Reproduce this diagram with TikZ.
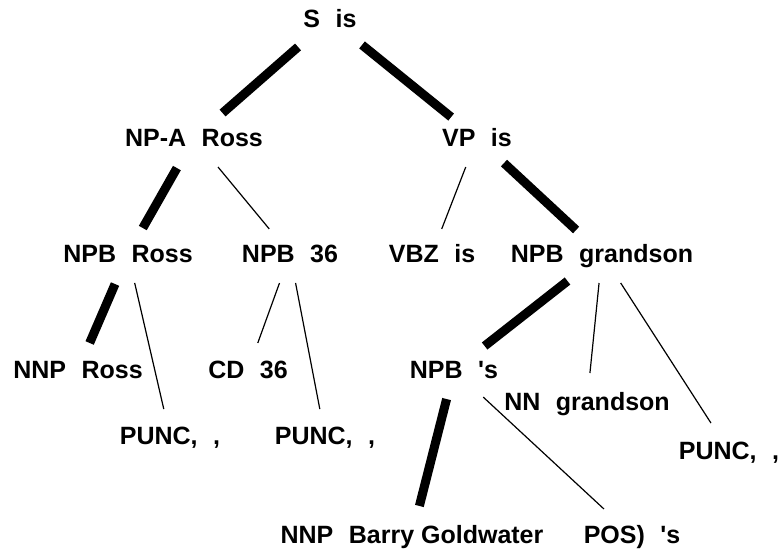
\documentclass[tikz,border=0pt]{standalone}
\usepackage{fontspec}
\setmainfont{Liberation Sans}
\usetikzlibrary{calc}
\newcommand{\tagsp}{\hspace{.62em}}
\tikzset{
  lbl/.style={inner sep=0pt, text height=17.9pt, text depth=0pt,
    font=\fontsize{25}{30}\selectfont\bfseries},
  heavy/.style={line width=9pt, line cap=butt},
  light/.style={line width=1.2pt},
}
\begin{document}
\begin{tikzpicture}[x=1pt, y=-1pt]
\useasboundingbox[fill=white] (0,0) rectangle (780,552);
% labels
\node[lbl] (s0) at (330,19) {S\tagsp is};
\node[lbl] (npa) at (194,138) {NP-A\tagsp Ross};
\node[lbl] (vp) at (477,138) {VP\tagsp is};
\node[lbl] (npbR) at (128,254) {NPB\tagsp Ross};
\node[lbl] (npb36) at (290,254) {NPB\tagsp 36};
\node[lbl] (vbz) at (432,254) {VBZ\tagsp is};
\node[lbl] (npbG) at (602,254) {NPB\tagsp grandson};
\node[lbl] (nnpR) at (78,370) {NNP\tagsp Ross};
\node[lbl] (cd) at (248,370) {CD\tagsp 36};
\node[lbl] (npbS) at (454,370) {NPB\tagsp \textquotesingle s};
\node[lbl] (nn) at (587,402) {NN\tagsp grandson};
\node[lbl] (punc1) at (170,436) {PUNC,\tagsp,};
\node[lbl] (punc2) at (325,436) {PUNC,\tagsp,};
\node[lbl] (punc3) at (729,451) {PUNC,\tagsp,};
\node[lbl] (nnpB) at (412,535) {NNP\tagsp Barry Goldwater};
\node[lbl] (pos) at (632,535) {POS)\tagsp \textquotesingle s};
% edges
\draw[heavy] ($(s0)!.235!(npa)$) -- ($(s0)!.79!(npa)$);
\draw[heavy] ($(s0)!.218!(vp)$) -- ($(s0)!.824!(vp)$);
\draw[heavy] ($(npa)!.259!(npbR)$) -- ($(npa)!.776!(npbR)$);
\draw[light] ($(npa)!.25!(npb36)$) -- ($(npa)!.784!(npb36)$);
\draw[light] ($(vp)!.25!(vbz)$) -- ($(vp)!.784!(vbz)$);
\draw[heavy] ($(vp)!.216!(npbG)$) -- ($(vp)!.793!(npbG)$);
\draw[heavy] ($(npbR)!.259!(nnpR)$) -- ($(npbR)!.767!(nnpR)$);
\draw[light] ($(npbR)!.159!(punc1)$) -- ($(npbR)!.852!(punc1)$);
\draw[light] ($(npb36)!.25!(cd)$) -- ($(npb36)!.767!(cd)$);
\draw[light] ($(npb36)!.159!(punc2)$) -- ($(npb36)!.852!(punc2)$);
\draw[heavy] ($(npbG)!.233!(npbS)$) -- ($(npbG)!.793!(npbS)$);
\draw[light] ($(npbG)!.196!(nn)$) -- ($(npbG)!.804!(nn)$);
\draw[light] ($(npbG)!.147!(punc3)$) -- ($(npbG)!.858!(punc3)$);
\draw[heavy] ($(npbS)!.176!(nnpB)$) -- ($(npbS)!.824!(nnpB)$);
\draw[light] ($(npbS)!.164!(pos)$) -- ($(npbS)!.842!(pos)$);
\end{tikzpicture}
\end{document}
